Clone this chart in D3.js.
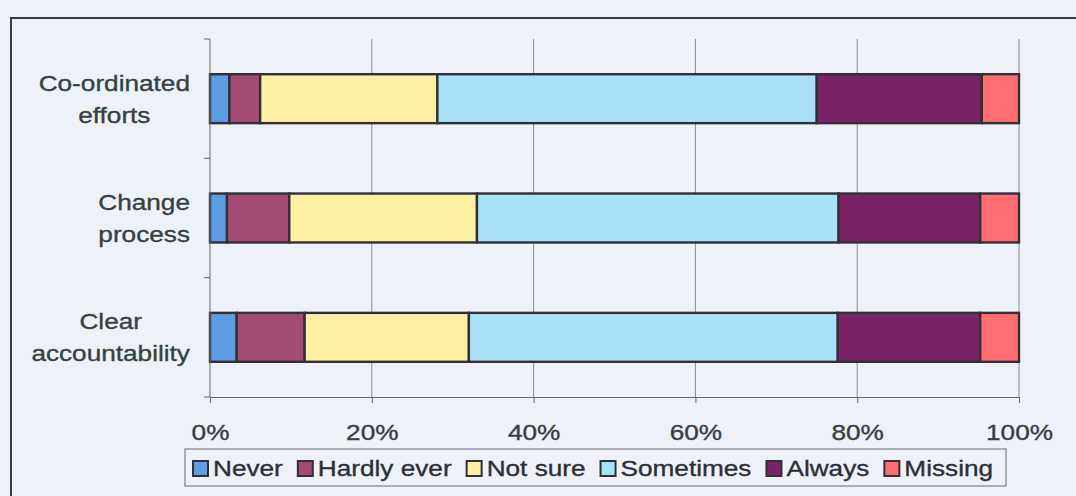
<!DOCTYPE html>
<html>
<head>
<meta charset="utf-8">
<script src="https://cdn.jsdelivr.net/npm/d3@7"></script>
<style>
  html, body { margin: 0; padding: 0; background: #eff1f9; }
  svg { display: block; }
  text { font-family: "Liberation Sans", Arial, sans-serif; }
</style>
</head>
<body>
<svg id="chart" width="1076" height="496"></svg>
<script>
// Survey responses per statement (percent of respondents)
const categories = [["Co-ordinated", "efforts"], ["Change", "process"], ["Clear", "accountability"]];
const seriesNames = ["Never", "Hardly ever", "Not sure", "Sometimes", "Always", "Missing"];
const never      = [2.4, 2.1, 3.3];
const hardlyEver = [3.8, 7.7, 8.4];
const notSure    = [21.9, 23.2, 20.3];
const sometimes  = [46.9, 44.7, 45.6];
const always     = [20.4, 17.5, 17.6];
const missing    = [4.6, 4.8, 4.8];
const tickValues = [0, 20, 40, 60, 80, 100];
const colors = ["#5c9de4", "#a34b73", "#fdf0a2", "#a9e1f8", "#7a2467", "#ff6d72"];

const seriesValues = [never, hardlyEver, notSure, sometimes, always, missing];
const keys = categories.map(c => c.join(" "));
const rows = keys.map((k, i) => {
  const r = { key: k };
  seriesNames.forEach((s, j) => { r[s] = seriesValues[j][i]; });
  return r;
});

const svg = d3.select("#chart");
const SX = 1.19; // horizontal text stretch
const textColor = "#34433f";

// Outer chart frame
svg.append("rect")
  .attr("x", 11).attr("y", 18).attr("width", 1100).attr("height", 520)
  .attr("fill", "#eff1f9").attr("stroke", "#3d3a48").attr("stroke-width", 2);

const plotLeft = 210, plotRight = 1019, plotTop = 39, plotBottom = 397;

const x = d3.scaleLinear().domain([0, 100]).range([plotLeft, plotRight]);
const yCat = d3.scaleBand().domain(keys).range([plotTop, plotBottom]).padding(0);
const yBar = d3.scaleBand().domain(keys).range([plotTop, plotBottom])
  .paddingInner(0.59).paddingOuter(0.295).align(0.5);

// Vertical gridlines
svg.append("g").selectAll("line")
  .data(tickValues.slice(1))
  .join("line")
  .attr("x1", d => x(d)).attr("x2", d => x(d))
  .attr("y1", plotTop).attr("y2", plotBottom)
  .attr("stroke", "#8a8a8a").attr("stroke-width", 1);

// Stacked bars
const stack = d3.stack().keys(seriesNames)(rows);
svg.append("g").selectAll("g")
  .data(stack)
  .join("g")
  .attr("fill", (d, i) => colors[i])
  .selectAll("rect")
  .data(d => d)
  .join("rect")
  .attr("x", d => x(d[0]))
  .attr("width", d => x(d[1]) - x(d[0]))
  .attr("y", d => yBar(d.data.key))
  .attr("height", yBar.bandwidth())
  .attr("stroke", "#303036").attr("stroke-width", 2.4);

// Bottom axis
const xAxis = svg.append("g")
  .attr("transform", `translate(0,${plotBottom})`)
  .call(d3.axisBottom(x).tickValues(tickValues).tickFormat(d => d + "%").tickSize(6).tickSizeOuter(0));
xAxis.select(".domain").attr("stroke", "#666");
xAxis.selectAll(".tick line").attr("stroke", "#666");
xAxis.selectAll(".tick text")
  .attr("y", 43).attr("dy", 0)
  .attr("transform", `scale(${SX},1)`)
  .attr("font-size", 22).attr("fill", "#383d42")
  .attr("stroke", "#383d42").attr("stroke-width", 0.35);

// Left axis line with boundary ticks between categories
const yLines = svg.append("g");
yLines.append("line")
  .attr("x1", plotLeft).attr("x2", plotLeft).attr("y1", plotTop).attr("y2", plotBottom)
  .attr("stroke", "#666");
const bounds = keys.map(k => yCat(k)).concat([plotBottom]);
yLines.selectAll("line.tk")
  .data(bounds)
  .join("line").attr("class", "tk")
  .attr("x1", plotLeft - 6).attr("x2", plotLeft)
  .attr("y1", d => d).attr("y2", d => d)
  .attr("stroke", "#666");

// Category labels: lines centred on each other, block right-aligned
categories.forEach((lines, i) => {
  const cy = yCat(keys[i]) + yCat.bandwidth() / 2;
  const g = svg.append("g");
  const texts = lines.map((t, j) => g.append("text")
    .attr("font-size", 22).attr("fill", textColor)
    .attr("stroke", textColor).attr("stroke-width", 0.35)
    .attr("text-anchor", "middle")
    .attr("y", cy - 8 + j * 32)
    .text(t));
  const w = d3.max(texts, t => t.node().getComputedTextLength()) * SX;
  const cx = 190 - w / 2;
  texts.forEach(t => t.attr("transform", `translate(${cx},0) scale(${SX},1)`));
});

// Legend
const legend = svg.append("g");
legend.append("rect")
  .attr("x", 185).attr("y", 449).attr("width", 821).attr("height", 37)
  .attr("fill", "#eff1f9").attr("stroke", "#6a6a6a").attr("stroke-width", 1);
let lx = 193;
seriesNames.forEach((s, i) => {
  legend.append("rect")
    .attr("x", lx).attr("y", 461).attr("width", 15).attr("height", 15)
    .attr("fill", colors[i]).attr("stroke", "#303036").attr("stroke-width", 2);
  const t = legend.append("text")
    .attr("font-size", 22).attr("fill", "#2c3036")
    .attr("stroke", "#2c3036").attr("stroke-width", 0.35)
    .attr("transform", `translate(${lx + 20},476) scale(${SX},1)`)
    .text(s);
  lx += 20 + t.node().getComputedTextLength() * SX + 15;
});
</script>
</body>
</html>
